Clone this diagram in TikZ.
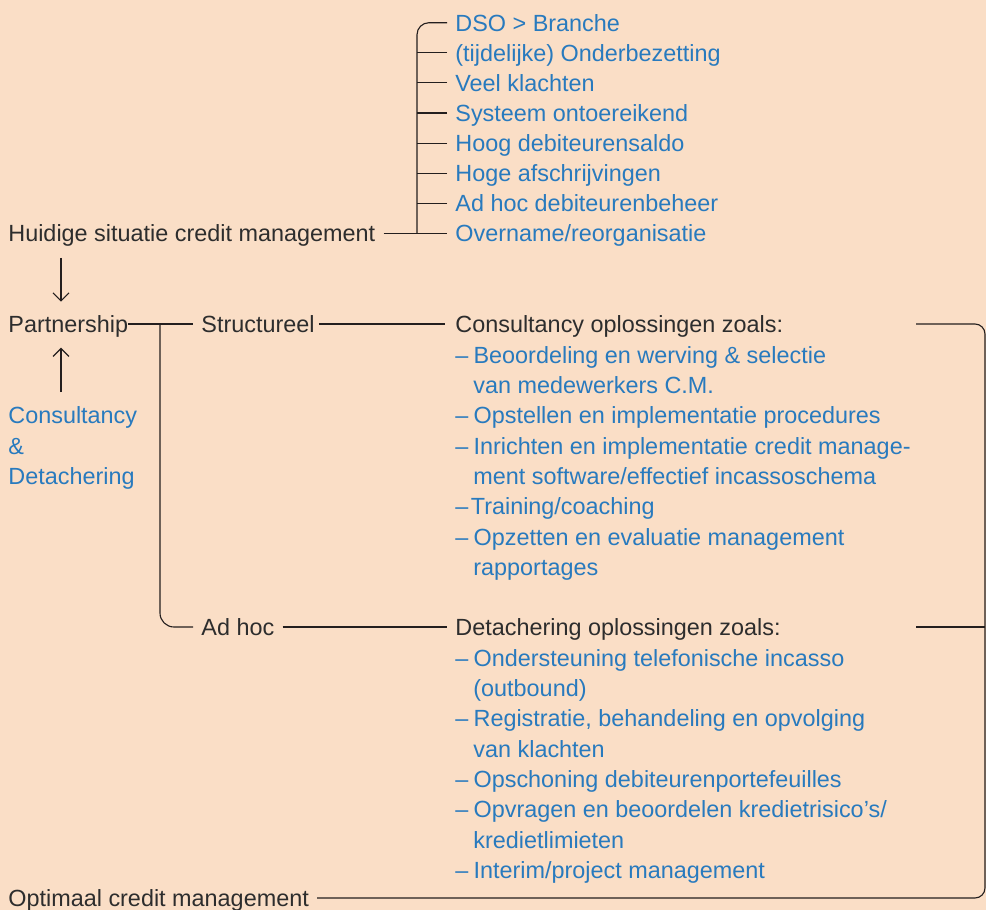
\documentclass[tikz,border=0pt]{standalone}
\usepackage{fontspec}
\setmainfont{Liberation Sans}
\usetikzlibrary{arrows.meta}
\definecolor{bgpeach}{RGB}{250,222,198}
\definecolor{cmblue}{RGB}{40,122,190}
\definecolor{txtdark}{RGB}{45,45,45}
\definecolor{linedark}{RGB}{35,30,30}
\begin{document}
\begin{tikzpicture}[x=0.5pt,y=-0.5pt,
  every node/.style={font=\fontsize{11.7}{14}\selectfont},
  lbl/.style={anchor=west, inner sep=0pt, text height=8.5pt, text depth=0pt, text=txtdark},
  blu/.style={lbl, text=cmblue},
  conn/.style={draw=linedark, line width=0.55pt},
  arr/.style={conn, -{Straight Barb[length=4pt, width=8pt, line width=0.55pt]}}]
\useasboundingbox (0,0) rectangle (986,910);
\fill [bgpeach] (0,0) rectangle (986,910);
\coordinate (brk) at (417,0);
\coordinate (dn) at (61,0);
\coordinate (sp) at (160,0);
\coordinate (edge) at (916,0);
\coordinate (rim) at (985,0);
\node [lbl] (huidig) at (8,233.4) {Huidige situatie credit management};
\node [blu] (dso) at (455,22.7) {DSO > Branche};
\node [blu] (onder) at (455,52.8) {(tijdelijke) Onderbezetting};
\node [blu] (klacht) at (455,82.9) {Veel klachten};
\node [blu] (sys) at (455,113) {Systeem ontoereikend};
\node [blu] (saldo) at (455,143.1) {Hoog debiteurensaldo};
\node [blu] (afschr) at (455,173.2) {Hoge afschrijvingen};
\node [blu] (beheer) at (455,203.3) {Ad hoc debiteurenbeheer};
\node [blu] (overn) at (455,233.4) {Overname/reorganisatie};
\node [lbl] (partn) at (8,324) {Partnership};
\node [blu] (consdet) at (8,415) {Consultancy};
\node [blu] (amp) at (8,445.5) {\&};
\node [blu] (detach) at (8,476) {Detachering};
\node [lbl] (struct) at (201,324) {Structureel};
\node [lbl] (adhoc) at (201,627) {Ad hoc};
\node [lbl] (cons) at (455,324) {Consultancy oplossingen zoals:};
\node [blu] (cons1) at (455,354.5) {–\hspace{2.6pt}Beoordeling en werving \& selectie};
\node [blu] (cons1b) at (473,385) {van medewerkers C.M.};
\node [blu] (cons2) at (455,415) {–\hspace{2.6pt}Opstellen en implementatie procedures};
\node [blu] (cons3) at (455,445.5) {–\hspace{2.6pt}Inrichten en implementatie credit manage-};
\node [blu] (cons3b) at (473,476) {ment software/effectief incassoschema};
\node [blu] (cons4) at (455,506) {–\hspace{1.2pt}Training/coaching};
\node [blu] (cons5) at (455,536.5) {–\hspace{2.6pt}Opzetten en evaluatie management};
\node [blu] (cons5b) at (473,567) {rapportages};
\node [lbl] (det) at (455,627) {Detachering oplossingen zoals:};
\node [blu] (det1) at (455,657.5) {–\hspace{2.6pt}Ondersteuning telefonische incasso};
\node [blu] (det1b) at (473,688) {(outbound)};
\node [blu] (det2) at (455,718) {–\hspace{2.6pt}Registratie, behandeling en opvolging};
\node [blu] (det2b) at (473,748.5) {van klachten};
\node [blu] (det3) at (455,779) {–\hspace{2.6pt}Opschoning debiteurenportefeuilles};
\node [blu] (det4) at (455,809) {–\hspace{2.6pt}Opvragen en beoordelen kredietrisico’s/};
\node [blu] (det4b) at (473,839.5) {kredietlimieten};
\node [blu] (det5) at (455,869.5) {–\hspace{2.6pt}Interim/project management};
\node [lbl] (opt) at (8,898) {Optimaal credit management};
\draw [conn, rounded corners=6pt] ([xshift=-4pt]dso.west) -| (overn.west -| brk);
\draw [conn] ([xshift=4pt]huidig.east) -- ([xshift=-4pt]overn.west);
\draw [conn] ([xshift=-4pt]onder.west) -- (onder.west -| brk);
\draw [conn] ([xshift=-4pt]klacht.west) -- (klacht.west -| brk);
\draw [conn] ([xshift=-4pt]sys.west) -- (sys.west -| brk);
\draw [conn] ([xshift=-4pt]saldo.west) -- (saldo.west -| brk);
\draw [conn] ([xshift=-4pt]afschr.west) -- (afschr.west -| brk);
\draw [conn] ([xshift=-4pt]beheer.west) -- (beheer.west -| brk);
\draw [arr] ([yshift=-7.75pt]huidig.south -| dn) -- ([yshift=6.75pt]partn.north -| dn);
\draw [arr] ([yshift=7pt]consdet.north -| dn) -- ([yshift=-7.4pt]partn.south -| dn);
\draw [conn] (partn.east) -- ([xshift=-4pt]struct.west);
\draw [conn, rounded corners=7pt] (partn.east -| sp) |- ([xshift=-4pt]adhoc.west);
\draw [conn] ([xshift=2pt]struct.east) -- ([xshift=-5pt]cons.west);
\draw [conn] ([xshift=4pt]adhoc.east) -- ([xshift=-4pt]det.west);
\draw [conn, rounded corners=5pt] (cons.west -| edge) -| (opt.east -| rim) -- ([xshift=4pt]opt.east);
\draw [conn] (det.west -| edge) -- (det.west -| rim);
\end{tikzpicture}
\end{document}
